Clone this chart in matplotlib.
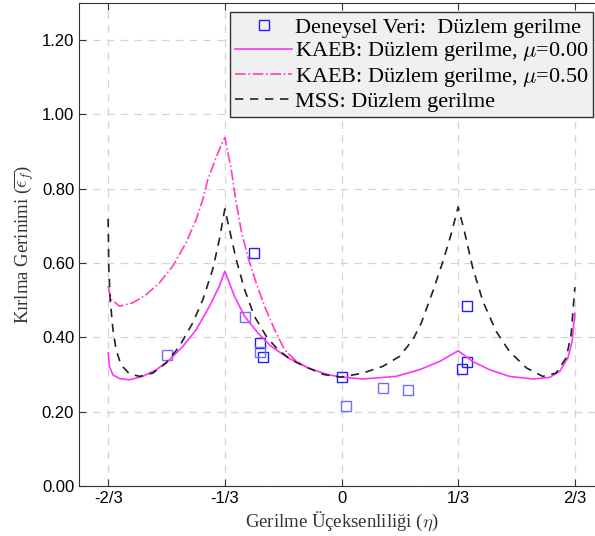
import numpy as np
import matplotlib
matplotlib.use("Agg")
import matplotlib.pyplot as plt

# stress triaxiality / fracture strain
eta_mss = [-0.6667, -0.665, -0.661, -0.653, -0.644, -0.630, -0.606, -0.577, -0.539, -0.501,
           -0.463, -0.425, -0.396, -0.368, -0.349, -0.3333, -0.32, -0.301, -0.277, -0.249,
           -0.215, -0.182, -0.144, -0.096, -0.05, 0.0, 0.061, 0.118, 0.166, 0.204,
           0.228, 0.261, 0.290, 0.313, 0.3333, 0.351, 0.375, 0.404, 0.442, 0.48,
           0.528, 0.575, 0.613, 0.642, 0.656, 0.6667]
eps_mss = [0.719, 0.592, 0.502, 0.421, 0.367, 0.326, 0.302, 0.295, 0.304, 0.331,
           0.376, 0.439, 0.502, 0.583, 0.663, 0.746, 0.69, 0.61, 0.529, 0.457,
           0.403, 0.367, 0.34, 0.318, 0.30, 0.293, 0.304, 0.322, 0.349, 0.394,
           0.439, 0.524, 0.605, 0.677, 0.751, 0.686, 0.587, 0.497, 0.416, 0.362,
           0.318, 0.295, 0.304, 0.345, 0.407, 0.535]

eta_k0 = [-0.6667, -0.663, -0.653, -0.634, -0.606, -0.568, -0.529, -0.491, -0.453, -0.415,
          -0.377, -0.349, -0.3333, -0.306, -0.277, -0.239, -0.201, -0.153, -0.096, -0.04,
          0.0, 0.061, 0.156, 0.223, 0.28, 0.3333, 0.375, 0.423, 0.48, 0.547,
          0.594, 0.623, 0.647, 0.659, 0.6667]
eps_k0 = [0.358, 0.322, 0.299, 0.289, 0.286, 0.295, 0.313, 0.34, 0.376, 0.421,
          0.484, 0.538, 0.578, 0.511, 0.457, 0.412, 0.376, 0.345, 0.318, 0.30,
          0.293, 0.288, 0.295, 0.313, 0.335, 0.364, 0.335, 0.313, 0.295, 0.288,
          0.292, 0.308, 0.345, 0.389, 0.465]

eta_k5 = [-0.6667, -0.658, -0.634, -0.596, -0.558, -0.52, -0.482, -0.444, -0.415, -0.396,
          -0.382, -0.353, -0.3333, -0.315, -0.301, -0.287, -0.268, -0.244, -0.22, -0.191,
          -0.163, -0.134, -0.10]
eps_k5 = [0.538, 0.502, 0.484, 0.493, 0.515, 0.547, 0.592, 0.655, 0.718, 0.772,
          0.825, 0.897, 0.938, 0.852, 0.763, 0.69, 0.618, 0.547, 0.484, 0.421,
          0.367, 0.34, 0.32]

# experimental points (two shades in the original)
exp_eta_a = [-0.249, -0.233, -0.223, 0.002, 0.358, 0.359, 0.345]
exp_eps_a = [0.626, 0.386, 0.346, 0.293, 0.484, 0.333, 0.315]
exp_eta_b = [-0.498, -0.277, -0.233, 0.013, 0.118, 0.191]
exp_eps_b = [0.353, 0.455, 0.36, 0.214, 0.265, 0.259]

xticks = [-2/3, -1/3, 0, 1/3, 2/3]
xticklabels = ['-2/3', '-1/3', '0', '1/3', '2/3']
yticks = [0.0, 0.2, 0.4, 0.6, 0.8, 1.0, 1.2]

plt.rcParams['mathtext.fontset'] = 'cm'
serif = ['Liberation Serif', 'DejaVu Serif']

fig = plt.figure(figsize=(5.95, 5.36), dpi=100)
ax = fig.add_axes([79/595, 50/536, 525/595, 483/536])

ax.plot(exp_eta_a, exp_eps_a, 's', ms=7.5, mfc='none', mec='#2020ff', mew=1.0,
        label='Deneysel Veri:  Düzlem gerilme')
ax.plot(exp_eta_b, exp_eps_b, 's', ms=7.5, mfc='none', mec='#7070ff', mew=1.0)
ax.plot(eta_k0, eps_k0, '-', color='#ff33ff', lw=1.2,
        label=r'KAEB: Düzlem gerilme, $\mu$=0.00')
ax.plot(eta_k5, eps_k5, '-.', color='#ff3fbf', lw=1.2,
        label=r'KAEB: Düzlem gerilme, $\mu$=0.50')
ax.plot(eta_mss, eps_mss, '--', color='#222222', lw=1.2, dashes=(5, 4),
        label='MSS: Düzlem gerilme')

ax.set_xlim(-0.75, 0.75)
ax.set_ylim(0, 1.3)
ax.set_xticks(xticks)
ax.set_xticklabels(xticklabels, family='Liberation Sans', fontsize=12)
ax.set_yticks(yticks)
ax.set_yticklabels(['%.2f' % v for v in yticks], family='Liberation Sans', fontsize=12)
ax.tick_params(direction='in', top=True, right=True, length=5, width=0.8, color='#333333')
ax.grid(True, color='#d5d5d5', linestyle=(0, (6, 5)), lw=0.9)
ax.set_axisbelow(True)
for s in ax.spines.values():
    s.set_color('#333333')

ax.set_xlabel(r'Gerilme Üçeksenliliği ($\eta$)', family=serif, fontsize=13.5,
              color='#333333', labelpad=3)
ax.set_ylabel(r'Kırlma Gerinimi ($\overline{\epsilon_f}$)', family=serif, fontsize=13.5,
              color='#333333')

leg = ax.legend(loc='upper right', prop={'family': serif, 'size': 16},
                bbox_to_anchor=(0.979, 0.981), borderaxespad=0, handlelength=2.6,
                handletextpad=0.1, labelspacing=0.12, borderpad=0.22, fancybox=False)
leg.get_frame().set_facecolor('#f0f0f0')
leg.get_frame().set_edgecolor('#333333')
leg.get_frame().set_alpha(1)

fig.savefig('out.png', dpi=100)
